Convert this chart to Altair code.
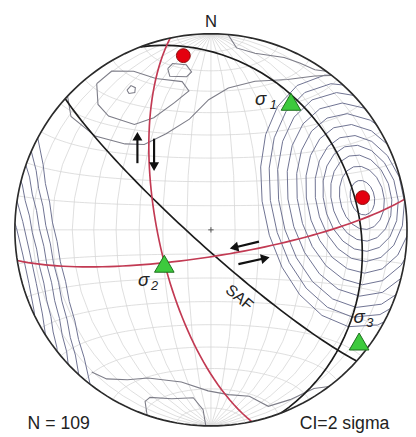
import math
import numpy as np
import pandas as pd
import altair as alt

# ---------------- data (lower-hemisphere equal-area net) -------------
# planes: strike (right-hand rule) / dip in degrees
plane_name = ["SAF", "plane_b", "red_1", "red_2"]
plane_strike = [132, 339, 168, 81]
plane_dip = [83, 26, 68, 79]
plane_colour = ["#1c1c1c", "#1c1c1c", "#c23a53", "#c23a53"]

# principal stress axes: trend / plunge
sigma_name = ["1", "2", "3"]
sigma_trend = [32, 234, 127]
sigma_plunge = [24, 66, 6]

# poles (red dots): trend / plunge
pole_trend = [351, 78]
pole_plunge = [11, 22]

# density maximum and contour half-angles of the main cluster (CI = 2 sigma)
max_trend = 78
max_plunge = 22
ring_halfangle = [6, 11, 15, 18.5, 22, 26, 30, 34, 38, 41.5, 45]

# the other contour lines, vertices as trend / plunge
lobe_outer_trend = [313, 309, 309, 315, 322, 335, 349, 359, 7, 16.5, 27, 34, 38]
lobe_outer_plunge = [0, 9, 25, 38, 44, 45, 42, 34, 28, 22, 15, 6, 0]
lobe_inner_trend = [322, 318, 318, 324, 333, 344, 351, 349, 340, 334, 328, 322]
lobe_inner_plunge = [6, 15, 23, 34, 36, 33, 29, 24, 19, 11, 5, 6]
dot_loop_trend = [345, 347, 351.5, 353, 351, 345, 345]
dot_loop_plunge = [16, 14, 16, 20, 22, 20, 16]
blob_trend = [329, 331, 332, 331, 329, 329]
blob_plunge = [18, 17, 19, 21, 20, 18]
sliver_trend = [5, 8, 14, 23, 33, 36]
sliver_plunge = [0, 7, 8, 5, 3, 0]
bottom_line_trend = [220, 215, 203, 191, 181, 167, 162, 155, 147, 143]
bottom_line_plunge = [6, 8, 19, 22, 19, 14, 6, 5, 4, 0]
bottom_loop_trend = [199, 201, 200, 186, 182.5, 181.5]
bottom_loop_plunge = [0, 7, 10, 15, 9, 0]

n_data = "N = 109"
ci_text = "CI=2 sigma"


# ---------------- geometry helpers ----------------
def vec(t, p):
    t, p = math.radians(t), math.radians(p)
    return np.array([math.cos(p) * math.sin(t), math.cos(p) * math.cos(t), math.sin(p)])


def lonlat(v):
    v = v / np.linalg.norm(v)
    lon = math.degrees(math.atan2(v[0], v[2]))
    lat = math.degrees(math.asin(max(-1.0, min(1.0, v[1]))))
    return [round(lon, 4), round(lat, 4)]


def great_circle(strike, dip):
    s = vec(strike, 0)
    d = vec(strike + 90, dip)
    pts = []
    for a in range(0, 181, 3):
        r = math.radians(a)
        pts.append(lonlat(math.cos(r) * s + math.sin(r) * d))
    return pts


def small_circle(axis, alpha, step=20):
    a = axis / np.linalg.norm(axis)
    ref = np.array([0.0, 0.0, 1.0]) if abs(a[2]) < 0.9 else np.array([1.0, 0.0, 0.0])
    u = np.cross(a, ref)
    u /= np.linalg.norm(u)
    w = np.cross(a, u)
    al = math.radians(alpha)
    out = []
    for phi in range(0, 361, step):
        f = math.radians(phi)
        out.append(math.cos(al) * a + math.sin(al) * (math.cos(f) * u + math.sin(f) * w))
    return out


def feature(coords):
    return {"type": "Feature", "properties": {},
            "geometry": {"type": "LineString", "coordinates": coords}}


def polyline(trends, plunges):
    return feature([lonlat(vec(t, p)) for t, p in zip(trends, plunges)])


proj = dict(type="azimuthalEqualArea", scale=141.42, translate=[207, 222],
            clipAngle=90, rotate=[0, 0, 0])

# ---------------- layers ----------------
grid = alt.Chart(alt.graticule(step=[10, 10])).mark_geoshape(
    filled=False, stroke="#d6d6d6", strokeWidth=0.8).project(**proj)

axis = vec(max_trend, max_plunge)
ring_feats = []
for h in ring_halfangle:
    pts = small_circle(axis, h)
    ring_feats.append(feature([lonlat(p) for p in pts]))
    ring_feats.append(feature([lonlat(-p) for p in pts]))
rings = alt.Chart(alt.Data(values=ring_feats)).mark_geoshape(
    filled=False, stroke="#6d7190", strokeWidth=1.0).project(**proj)

other_feats = [
    polyline(lobe_outer_trend, lobe_outer_plunge),
    polyline(lobe_inner_trend, lobe_inner_plunge),
    polyline(dot_loop_trend, dot_loop_plunge),
    polyline(blob_trend, blob_plunge),
    polyline(sliver_trend, sliver_plunge),
    polyline(bottom_line_trend, bottom_line_plunge),
    polyline(bottom_loop_trend, bottom_loop_plunge),
]
others = alt.Chart(alt.Data(values=other_feats)).mark_geoshape(
    filled=False, stroke="#7d7d88", strokeWidth=1.1).project(**proj)

plane_layers = []
for nm, s, d, c in zip(plane_name, plane_strike, plane_dip, plane_colour):
    plane_layers.append(
        alt.Chart(alt.Data(values=[feature(great_circle(s, d))])).mark_geoshape(
            filled=False, stroke=c, strokeWidth=1.7).project(**proj))

primitive = alt.Chart(alt.sphere()).mark_geoshape(
    filled=False, stroke="#2b2b2b", strokeWidth=1.7).project(**proj)

sig_ll = [lonlat(vec(t, p)) for t, p in zip(sigma_trend, sigma_plunge)]
sig_df = pd.DataFrame({"name": sigma_name,
                       "lon": [c[0] for c in sig_ll], "lat": [c[1] for c in sig_ll]})
pole_ll = [lonlat(vec(t, p)) for t, p in zip(pole_trend, pole_plunge)]
pole_df = pd.DataFrame({"lon": [c[0] for c in pole_ll], "lat": [c[1] for c in pole_ll]})
centre_df = pd.DataFrame({"lon": [0.0], "lat": [0.0]})
north_ll = lonlat(vec(0, 0))
north_df = pd.DataFrame({"lon": [north_ll[0]], "lat": [north_ll[1]], "t": ["N"]})

centre = alt.Chart(centre_df).mark_point(
    shape="M-1,0L1,0M0,-1L0,1", size=30, stroke="#555", strokeWidth=1, opacity=1
).encode(longitude="lon:Q", latitude="lat:Q").project(**proj)

poles = alt.Chart(pole_df).mark_point(
    shape="circle", filled=True, fill="#e4000f", stroke="#8c0a0a", strokeWidth=1,
    size=200, opacity=1).encode(longitude="lon:Q", latitude="lat:Q").project(**proj)

sigmas = alt.Chart(sig_df).mark_point(
    shape="triangle-up", filled=True, fill="#3dca3d", stroke="#1c6e1c", strokeWidth=1,
    size=400, opacity=1).encode(longitude="lon:Q", latitude="lat:Q").project(**proj)

label_offsets = {"1": (-31, -3, -18, 3), "2": (-21, 17, -10, 23), "3": (0, -25, 11, -19)}
sig_labels = []
for nm in sigma_name:
    dx, dy, sdx, sdy = label_offsets[nm]
    one = sig_df[sig_df["name"] == nm]
    sig_labels.append(alt.Chart(one).mark_text(
        text="σ", font="Liberation Sans", fontStyle="italic", fontSize=19,
        dx=dx, dy=dy, color="#222").encode(
        longitude="lon:Q", latitude="lat:Q").project(**proj))
    sig_labels.append(alt.Chart(one).mark_text(
        font="Liberation Sans", fontStyle="italic", fontSize=13,
        dx=sdx, dy=sdy, color="#222").encode(
        longitude="lon:Q", latitude="lat:Q", text="name:N").project(**proj))

north = alt.Chart(north_df).mark_text(
    font="Liberation Sans", fontSize=17, dy=-12, color="#222").encode(
    longitude="lon:Q", latitude="lat:Q", text="t:N").project(**proj)

one_row = alt.Data(values=[{}])
txt = dict(font="Liberation Sans", fontSize=18, color="#222")
n_label = alt.Chart(one_row).mark_text(text=n_data, align="left", baseline="alphabetic", **txt).encode(
    x=alt.value(20), y=alt.value(425))
ci_label = alt.Chart(one_row).mark_text(text=ci_text, align="right", baseline="alphabetic", **txt).encode(
    x=alt.value(389), y=alt.value(425))
saf_label = alt.Chart(one_row).mark_text(
    text="SAF", font="Liberation Sans", fontSize=16, angle=40, color="#222").encode(
    x=alt.value(236), y=alt.value(291))

# shear-sense arrows (shaft start, tip)
arrow_specs = [((132, 154), (132, 127), 0),
               ((149, 129), (149, 157), 180),
               ((256, 234), (231, 240), 257),
               ((235, 257), (262, 251), 77)]
arrows = []
for (x0, y0), (x1, y1), ang in arrow_specs:
    arrows.append(alt.Chart(one_row).mark_rule(strokeWidth=2.2, color="#111").encode(
        x=alt.value(x0), y=alt.value(y0), x2=alt.value(x1), y2=alt.value(y1)))
    arrows.append(alt.Chart(one_row).mark_point(
        shape="triangle-up", filled=True, fill="#111", stroke="#111", size=45,
        angle=ang, opacity=1).encode(x=alt.value(x1), y=alt.value(y1)))

chart = alt.layer(
    grid, rings, others, *plane_layers, primitive, centre, poles, sigmas,
    *sig_labels, north, n_label, ci_label, saf_label, *arrows
).properties(
    width=408, height=429, padding=0, autosize=alt.AutoSizeParams(type="none"),
    background="white"
).configure_view(stroke=None)

chart.save("out.html", embed_options={"renderer": "svg", "actions": False})
